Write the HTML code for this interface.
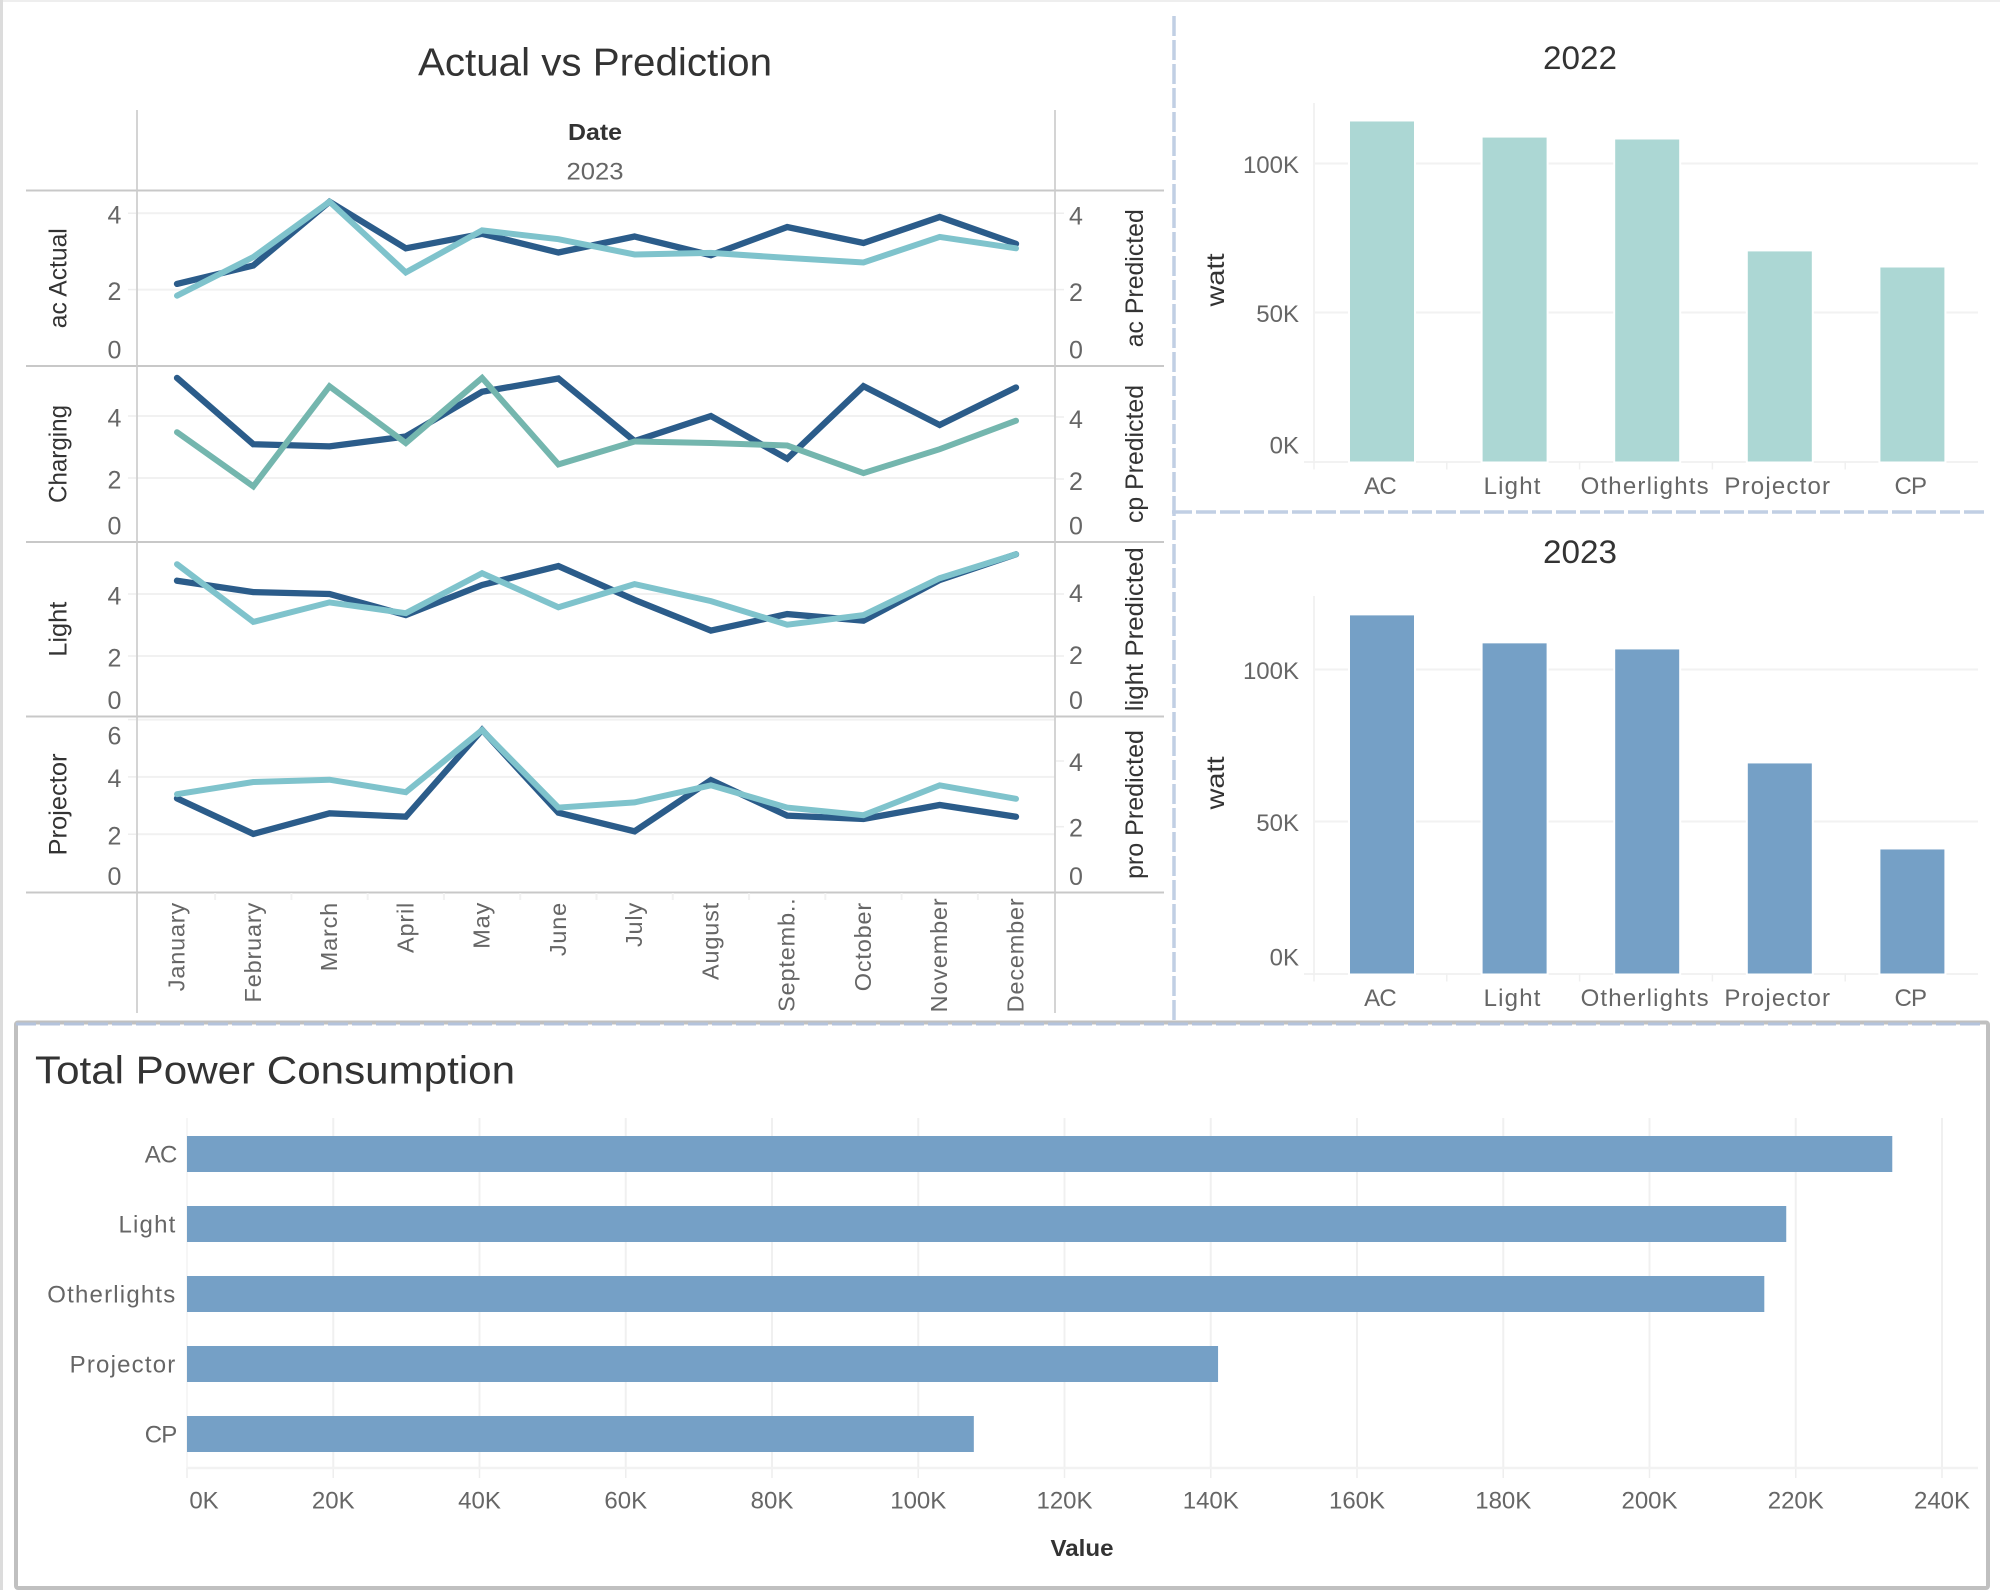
<!DOCTYPE html>
<html lang="en">
<head>
<meta charset="utf-8">
<title>Power Consumption Dashboard</title>
<style>
html,body{margin:0;padding:0;background:#fff;width:2000px;height:1590px;overflow:hidden}
svg{display:block}
text{font-family:"Liberation Sans",sans-serif}
</style>
</head>
<body>
<svg id="dash" xmlns="http://www.w3.org/2000/svg" width="2000" height="1590" viewBox="0 0 2000 1590">
  <rect x="0" y="0" width="2000" height="1590" fill="#fff"/>
  <rect x="0" y="0" width="2000" height="2" fill="#eeeeee"/>
  <rect x="0" y="0" width="3" height="1590" fill="#dcdcdc"/>
  <g id="layer-line"></g>
  <g id="layer-2022"></g>
  <g id="layer-2023"></g>
  <line x1="1174" y1="16" x2="1174" y2="1021" stroke="#c1cfe4" stroke-width="3.5" stroke-dasharray="20 4"/>
  <line x1="1172" y1="512" x2="1984" y2="512" stroke="#c1cfe4" stroke-width="3.5" stroke-dasharray="20 4"/>
  <rect x="16" y="1022.5" width="1972" height="565.5" rx="2" fill="#fff" stroke="#c0c0c0" stroke-width="4"/>
  <line x1="16" y1="1024" x2="1980" y2="1024" stroke="#b4c3dc" stroke-width="3" stroke-dasharray="20 4"/>
  <g id="layer-total"></g>
</svg>
<script>
// ---------- chart data ----------
const months = ['January','February','March','April','May','June','July','August','Septemb..','October','November','December'];
const acActual = [2.15,2.63,4.30,3.08,3.46,2.97,3.39,2.90,3.64,3.22,3.90,3.20];
const acPredicted = [1.84,2.85,4.30,2.45,3.55,3.32,2.92,2.96,2.83,2.71,3.38,3.08];
const chargingActual = [5.23,3.09,3.02,3.34,4.78,5.21,3.19,4.00,2.62,4.96,3.71,4.92];
const cpPredicted = [3.51,1.76,4.99,3.16,5.26,2.47,3.21,3.16,3.08,2.19,2.96,3.88];
const lightActual = [4.43,4.06,4.00,3.32,4.29,4.90,3.81,2.82,3.35,3.14,4.45,5.28];
const lightPredicted = [4.96,3.10,3.73,3.38,4.67,3.57,4.32,3.77,3.01,3.32,4.51,5.28];
const projectorActual = [3.25,2.01,2.73,2.61,5.64,2.75,2.10,3.89,2.65,2.53,3.02,2.61];
const proPredicted = [2.99,3.36,3.43,3.05,4.94,2.58,2.74,3.26,2.58,2.35,3.26,2.85];
const ticksStandard = [0,2,4];
const ticksProjector = [0,2,4,6];
const categories = ['AC','Light','Otherlights','Projector','CP'];
const watt2022 = [114100,108700,108050,70500,65100];
const watt2023 = [117800,108600,106600,69100,40800];
const wattTicks = [0,50000,100000];
const totalValues = [233200,218700,215700,141000,107600];
const totalTicks = [0,20000,40000,60000,80000,100000,120000,140000,160000,180000,200000,220000,240000];

// ---------- helpers ----------
const NS = 'http://www.w3.org/2000/svg';
function mk(parent, tag, name, attrs) {
  const el = document.createElementNS(NS, tag);
  
  
  for (const k in attrs) el.setAttribute(k, attrs[k]);
  parent.appendChild(el);
  return el;
}
function label(parent, name, str, x, cy, size, fill, anchor, extra) {
  const el = mk(parent, 'text', name, Object.assign({
    x: x, y: cy + size * 0.35, 'font-size': size, fill: fill, 'text-anchor': anchor || 'middle'
  }, extra || {}));
  el.textContent = str;
  return el;
}
function vLabel(parent, name, str, x, cy, size, fill, len) {
  const el = mk(parent, 'text', name, {
    x: 0, y: 0, 'font-size': size, fill: fill, 'text-anchor': 'middle',
    transform: 'translate(' + (x + size * 0.35) + ',' + cy + ') rotate(-90)',
    textLength: len, lengthAdjust: 'spacingAndGlyphs'
  });
  el.textContent = str;
  return el;
}
function line(parent, name, x1, y1, x2, y2, color, w) {
  return mk(parent, 'line', name, {x1: x1, y1: y1, x2: x2, y2: y2, stroke: color, 'stroke-width': w});
}
const kFmt = v => (v / 1000) + 'K';
const catSpacing = c => (c.length < 3 ? -0.8 : 1.2);

// ---------- line chart ----------
const gL = document.getElementById('layer-line');
const AXIS_L = 137, AXIS_R = 1055;
const monthX = i => 177 + i * (1016 - 177) / (months.length - 1);

label(gL, 'line-chart-title', 'Actual vs Prediction', 595, 62, 39, '#333', 'middle', {textLength: 354, lengthAdjust: 'spacingAndGlyphs'});
label(gL, 'date-header', 'Date', 595, 132, 23, '#333', 'middle', {'font-weight': 'bold', textLength: 54, lengthAdjust: 'spacingAndGlyphs'});
label(gL, 'year-header', '2023', 595, 171, 24, '#666', 'middle', {textLength: 57, lengthAdjust: 'spacingAndGlyphs'});

function drawPanel(key, top, bottom, leftZero, leftPx, rightZero, rightPx, rightOffset, leftTitle, leftLen, rightTitle, rightLen, actual, predicted, leftTicks, rightTicks, predColor) {
  const yL = v => leftZero - v * leftPx;
  const yR = v => rightZero - v * rightPx;
  const mid = (top + bottom) / 2;
  vLabel(gL, key + '-left-title', leftTitle, 57.5, mid, 25, '#333', leftLen);
  vLabel(gL, key + '-right-title', rightTitle, 1134, mid, 25, '#333', rightLen);
  leftTicks.forEach(function (t) {
    const gy = yL(t);
    if (t > 0 && gy > top + 2) {
      line(gL, key + '-gridline', AXIS_L, gy, AXIS_R, gy, '#f1f1f1', 2);
      line(gL, key + '-left-tick', AXIS_L - 9, gy, AXIS_L - 1, gy, '#eeeeee', 1.5);
    }
    label(gL, key + '-left-tick-label', String(t), 114.5, Math.max(top + 19, Math.min(bottom - 16.5, gy + 1.5)), 25, '#666');
  });
  rightTicks.forEach(function (t) {
    const gy = yR(t);
    if (t > 0) line(gL, key + '-right-tick', AXIS_R + 1, gy, AXIS_R + 9, gy, '#eeeeee', 1.5);
    label(gL, key + '-right-tick-label', String(t), 1076, Math.max(top + 19, Math.min(bottom - 16.5, gy + rightOffset)), 25, '#666');
  });
  const path = (vals, sc) => vals.map((v, i) => (i ? 'L' : 'M') + monthX(i).toFixed(1) + ' ' + sc(v).toFixed(1)).join(' ');
  mk(gL, 'path', key + '-actual-line', {d: path(actual, yL), fill: 'none', stroke: '#2b5c8a', 'stroke-width': 6.3, 'stroke-linejoin': 'miter', 'stroke-linecap': 'round'});
  mk(gL, 'path', key + '-predicted-line', {d: path(predicted, yR), fill: 'none', stroke: predColor, 'stroke-width': 6, 'stroke-linejoin': 'miter', 'stroke-linecap': 'round'});
}
drawPanel('ac', 190.5, 366, 366, 38.2, 366, 38.2, 2.5, 'ac Actual', 100, 'ac Predicted', 138, acActual, acPredicted, ticksStandard, ticksStandard, '#7fc3cc');
drawPanel('charging', 366, 542, 540, 31, 541, 31, 2, 'Charging', 98, 'cp Predicted', 138, chargingActual, cpPredicted, ticksStandard, ticksStandard, '#74b6ae');
drawPanel('light', 542, 716.5, 718, 31, 718, 31, -1, 'Light', 55, 'light Predicted', 164, lightActual, lightPredicted, ticksStandard, ticksStandard, '#7fc3cc');
drawPanel('projector', 716.5, 892.5, 891.5, 28.65, 892.4, 32.85, 1, 'Projector', 102, 'pro Predicted', 149, projectorActual, proPredicted, ticksProjector, ticksStandard, '#7fc3cc');

[190.5, 366, 542, 716.5, 892.5].forEach(function (y) {
  line(gL, 'panel-separator', 26, y, 1164, y, '#c8c8c8', 2);
});
line(gL, 'left-frame-line', AXIS_L, 110, AXIS_L, 1013, '#cccccc', 1.7);
line(gL, 'right-frame-line', AXIS_R, 110, AXIS_R, 1013, '#cccccc', 1.7);

months.forEach(function (m, i) {
  if (i > 0) {
    const bx = (monthX(i) + monthX(i - 1)) / 2;
    line(gL, 'month-tick', bx, 893, bx, 900, '#f2f2f2', 2);
  }
  const tx = monthX(i) + 7.5;
  const el = mk(gL, 'text', 'month-label', {
    x: 0, y: 0, 'font-size': 23.5, fill: '#666', 'text-anchor': 'end', 'letter-spacing': 0.8,
    transform: 'translate(' + tx.toFixed(1) + ',902) rotate(-90)'
  });
  el.textContent = m;
  if (el.getComputedTextLength() > 105) {
    el.setAttribute('transform', 'translate(' + tx.toFixed(1) + ',897.5) rotate(-90)');
  }
});

// ---------- vertical bar charts ----------
function drawBars(gid, key, title, titleY, top, base, pxPerUnit, values, color, watY, labelY, zeroLabelY) {
  const g = document.getElementById(gid);
  const y = v => base - v * pxPerUnit;
  const cx = i => 1382 + i * 132.6;
  label(g, key + '-title', title, 1580, titleY, 32, '#333', 'middle', {textLength: 74, lengthAdjust: 'spacingAndGlyphs'});
  vLabel(g, key + '-y-axis-title', 'watt', 1215, watY, 25, '#333', 53);
  line(g, key + '-y-axis-line', 1314, top, 1314, base, '#f2f2f2', 2);
  line(g, key + '-x-axis-line', 1304, base + 0.5, 1978, base + 0.5, '#f2f2f2', 2);
  wattTicks.forEach(function (t) {
    const gy = y(t);
    if (t > 0) line(g, key + '-gridline', 1314, gy, 1978, gy, '#f2f2f2', 2);
    label(g, key + '-y-tick-label', kFmt(t), 1299, t === 0 ? zeroLabelY : gy + 1, 24, '#666', 'end');
  });
  categories.forEach(function (c, i) {
    const tickX = 1314 + i * 132.8;
    line(g, key + '-x-tick', tickX, base, tickX, base + 8, '#f0f0f0', 1.5);
    const barTop = y(values[i]);
    mk(g, 'rect', key + '-bar-' + c.toLowerCase(), {
      x: cx(i) - 32, y: barTop, width: 64, height: base - barTop, fill: color,
      stroke: '#fff', 'stroke-width': 4, 'paint-order': 'stroke'
    });
    label(g, key + '-x-tick-label', c, cx(i) - 2, labelY, 24, '#666', 'middle', {'letter-spacing': catSpacing(c)});
  });
}
drawBars('layer-2022', 'chart-2022', '2022', 58, 103, 461.5, 149 / 50000, watt2022, '#acd7d4', 280, 485.5, 445);
drawBars('layer-2023', 'chart-2023', '2023', 552, 596, 973.5, 152 / 50000, watt2023, '#75a0c6', 783, 997.5, 957);

// ---------- total power consumption ----------
const gT = document.getElementById('layer-total');
const X0 = 187, PX_PER = 146.25 / 20000;
const xT = v => X0 + v * PX_PER;
label(gT, 'total-power-title', 'Total Power Consumption', 35, 1070, 39, '#333', 'start', {textLength: 480, lengthAdjust: 'spacingAndGlyphs'});
line(gT, 'total-y-axis-line', X0, 1118, X0, 1468, '#f4f4f4', 1.5);
totalTicks.forEach(function (t, i) {
  const gx = xT(t);
  if (t > 0) line(gT, 'total-gridline', gx, 1118, gx, 1468, '#f0f0f0', 2);
  line(gT, 'total-x-tick', gx, 1468, gx, 1478, '#eeeeee', 1.5);
  label(gT, 'total-x-tick-label', kFmt(t), i === 0 ? 204 : gx, 1500, 24, '#666');
});
line(gT, 'total-x-axis-line', X0, 1468, 1978, 1468, '#f2f2f2', 2.5);
categories.forEach(function (c, i) {
  const top = 1136 + i * 70;
  mk(gT, 'rect', 'total-bar-' + c.toLowerCase(), {
    x: X0, y: top, width: xT(totalValues[i]) - X0, height: 36, fill: '#75a0c6'
  });
  label(gT, 'total-y-label', c, 176.5, top + 18, 24, '#666', 'end', {'letter-spacing': catSpacing(c)});
});
label(gT, 'total-x-axis-title', 'Value', 1082, 1548, 23, '#333', 'middle', {'font-weight': 'bold', textLength: 63, lengthAdjust: 'spacingAndGlyphs'});
</script>
</body>
</html>
